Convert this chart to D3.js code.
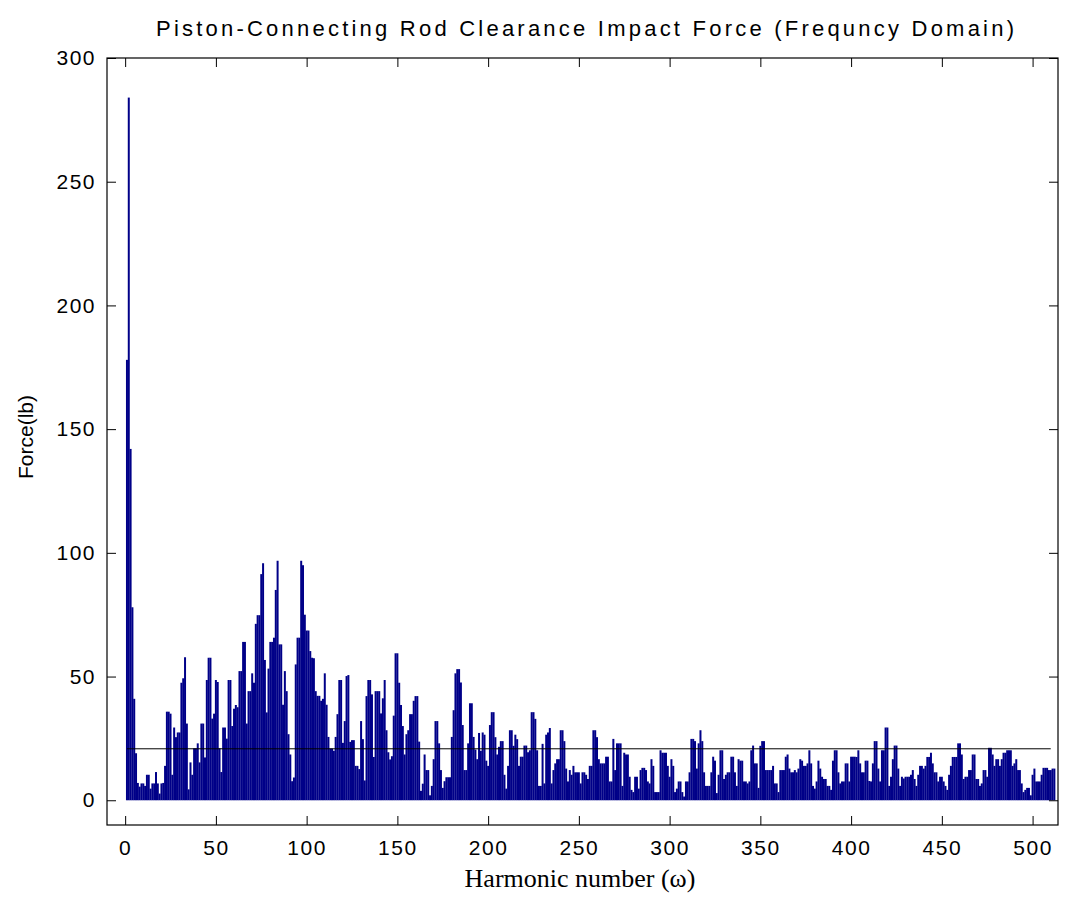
<!DOCTYPE html>
<html>
<head>
<meta charset="utf-8">
<script src="https://cdnjs.cloudflare.com/ajax/libs/d3/7.8.5/d3.min.js"></script>
<style>
  body { margin: 0; background: #fff; }
  svg { display: block; }
  .axis text { font-family: "Liberation Sans", Arial, sans-serif; font-size: 21px; fill: #000; letter-spacing: 1.5px; }
  .axis line { stroke: #000; }
</style>
</head>
<body>
<svg></svg>
<script>
// force amplitude for harmonic number 1..512
const force = [
  178, 284, 142, 78, 41, 19, 7, 5.5, 6.8, 6.8, 5.8, 10.3, 10.3, 4.7, 6.8, 6.8,
  11.4, 6.8, 2.7, 6.8, 7, 13.9, 35.8, 35.8, 35, 10.3, 29.4, 25.5, 27.4, 27.4, 47.5, 49.3,
  57.8, 31, 4.4, 15.3, 10.3, 21, 21, 23, 15.3, 31, 31, 17.3, 48.6, 57.6, 57.6, 33,
  35, 48.6, 47.8, 21, 11.4, 29.4, 29.4, 24.9, 48.6, 48.6, 30, 37, 38.5, 37.6, 52.2, 52.2,
  64, 64, 31, 44.1, 44.1, 51.3, 47.5, 71.3, 74.8, 74.8, 91.4, 95.8, 56.7, 35.5, 53.2, 64,
  64, 65.7, 85, 96.8, 63, 63, 38.6, 52.2, 44.1, 26.7, 18.5, 7.7, 9.2, 54.9, 65.7, 65.7,
  96.8, 95, 75, 68.6, 68.6, 60.3, 57.6, 57.4, 44.1, 42.2, 42.2, 40.2, 41, 51.3, 38.6, 25.6,
  20.9, 20.9, 20, 25.6, 34.8, 48.6, 48.6, 23.2, 32, 50.2, 50.6, 23.6, 24.3, 24.3, 13.9, 13.9,
  12.6, 32, 24.7, 8, 42.1, 48.6, 48.6, 42.8, 17.5, 44.1, 44.1, 44.1, 35.1, 41.2, 48.6, 28.3,
  19.4, 16.5, 17.8, 34.2, 59.4, 59.4, 47.5, 38.5, 30, 18.5, 26.7, 28.3, 34.8, 34.8, 40.2, 42.1,
  42.1, 23.7, 3.8, 6.7, 18.5, 12.2, 12.2, 2, 5.8, 16.6, 32, 32, 23, 12.2, 5, 7.7,
  9.3, 9.3, 9.3, 25.6, 36.4, 51.3, 53, 53, 47.6, 30.4, 12.2, 12.2, 23, 39.2, 39.2, 25.6,
  20.5, 16.6, 27.2, 20, 27.4, 26.5, 16, 13.9, 30.4, 35.6, 35.6, 25.5, 18.5, 21.6, 23.9, 23.9,
  10.3, 4.7, 13.9, 28.3, 28.3, 22, 26.5, 24.7, 13.9, 17.6, 17.6, 22.1, 22.1, 19.4, 20.2, 35.6,
  35.6, 32.9, 20.2, 5.8, 5.8, 22.8, 6.8, 26.5, 27.4, 29.2, 6.8, 12.2, 14.9, 16.6, 16.6, 28.3,
  28.3, 23.9, 12.8, 7.6, 12.2, 10.3, 13.9, 11.3, 11.3, 11.3, 6.8, 11.3, 11.3, 10.3, 8.6, 13.9,
  13.9, 28.3, 28.3, 25.5, 16.6, 14.9, 14.9, 14.9, 17.6, 17.6, 7.6, 7.6, 24.8, 12.2, 23, 23,
  23, 5.8, 19.2, 18.5, 18.5, 9.5, 4.2, 3.3, 9.5, 9.5, 4.7, 12.2, 13.1, 13.1, 12.2, 7.6,
  6.8, 16.6, 13.9, 3.3, 3.3, 3.3, 20.2, 19.2, 19.2, 19.2, 13.9, 9.5, 16.6, 13.9, 3.3, 4.7,
  7.6, 7.6, 3.3, 1.5, 7.6, 7.6, 11.3, 24.8, 24.8, 23.9, 12.8, 23, 28.3, 23.9, 11.3, 5.8,
  5.8, 5.8, 11.3, 17.6, 16, 2.9, 10.3, 20.2, 20.2, 8.6, 10.3, 11.3, 11.3, 17.6, 17.6, 11.3,
  5.8, 16.6, 16, 16, 7.6, 7.6, 6.8, 7.6, 20.2, 22.1, 14.9, 14.9, 5, 22, 23.9, 23.9,
  12.2, 12.2, 12.2, 12.2, 13.9, 6.8, 6.8, 3.3, 12.2, 12.2, 12.2, 17.6, 18.5, 12.8, 11.3, 11.3,
  12.2, 11.3, 12.8, 16.6, 16, 13.9, 13.9, 14.9, 20.2, 14.9, 5.8, 4.7, 7.6, 16, 12.8, 9.5,
  8.6, 8.6, 5.8, 5.8, 4.2, 16, 20.2, 20.2, 11.3, 6.8, 7.6, 7.6, 14.9, 14.9, 7.6, 17.6,
  17.6, 17.6, 17.5, 20.2, 14.9, 11.3, 11.3, 16, 16, 7.8, 7.6, 14.9, 23.9, 23.9, 12.8, 7.6,
  20.2, 20.2, 29.4, 29.4, 5.8, 9.5, 16.6, 22.1, 22.1, 12.8, 5.8, 9.5, 8.8, 9.5, 9.5, 9.5,
  10.3, 12.2, 8.6, 5.8, 10.3, 13.9, 13.9, 12.8, 13.9, 17.5, 17.5, 19.2, 14.9, 11.3, 11.3, 7.6,
  9.5, 9.5, 7.6, 5.8, 4.2, 10.3, 13.9, 17.5, 17.5, 17.5, 23, 23, 18.5, 8.6, 9.5, 9.5,
  12.2, 12.2, 18.5, 18.5, 8.6, 8.6, 5.8, 6.8, 12.2, 12.2, 9.5, 21.2, 21.2, 18.5, 13.9, 16.6,
  16.6, 13.9, 16.6, 19.2, 19.2, 20.2, 20.2, 20.2, 13.9, 14.9, 16.6, 12.2, 12.2, 6.8, 3.3, 4.2,
  5, 5, 2, 10.3, 12.8, 7.6, 7.6, 7.6, 10.3, 13.1, 13.1, 13.1, 12.2, 12.2, 12.8, 12.8
];

// harmonic numbers 1..512
const harmonic = force.map(function (d, i) { return i + 1; });

// horizontal reference level drawn across the spectrum
const refLevel = 20.8;
const refRange = [1, 510];

const xTicks = [0, 50, 100, 150, 200, 250, 300, 350, 400, 450, 500];
const yTicks = [0, 50, 100, 150, 200, 250, 300];

const W = 1067, H = 919;
const margin = { top: 58, right: 9, bottom: 94, left: 107 },
  width = W - margin.left - margin.right,
  height = H - margin.top - margin.bottom;

const root = d3.select("svg").attr("width", W).attr("height", H);

const svg = root
  .append("g")
  .attr("transform", "translate(" + margin.left + "," + margin.top + ")");

const x = d3.scaleLinear().domain([-10, 514]).range([0, width]);
const y = d3.scaleLinear().domain([-10, 300]).range([height, 0]);

// slightly overlapping bars so neighbours merge into a solid mass like the original
const barW = (x(1) - x(0)) * 1.1;

svg
  .selectAll(".bar")
  .data(harmonic)
  .enter()
  .append("rect")
  .attr("class", "bar")
  .attr("x", function (d) { return x(d) - barW / 2; })
  .attr("y", function (d, i) { return y(force[i]); })
  .attr("width", barW)
  .attr("height", function (d, i) { return y(0) - y(force[i]); })
  .attr("fill", "#000088");

svg
  .append("line")
  .attr("x1", x(refRange[0]))
  .attr("x2", x(refRange[1]))
  .attr("y1", y(refLevel))
  .attr("y2", y(refLevel))
  .attr("stroke", "#000")
  .attr("stroke-width", 1);

// axes, ticks pointing inward on all four sides
const tick = 9;

svg.append("g").attr("class", "x axis")
  .attr("transform", "translate(0," + height + ")")
  .call(d3.axisBottom(x).tickValues(xTicks).tickSizeInner(-tick).tickSizeOuter(0).tickPadding(15))
  .call(function (g) { g.select(".domain").remove(); });

svg.append("g").attr("class", "x axis top")
  .call(d3.axisTop(x).tickValues(xTicks).tickSizeInner(-tick).tickSizeOuter(0).tickFormat(""))
  .call(function (g) { g.select(".domain").remove(); });

svg.append("g").attr("class", "y axis")
  .call(d3.axisLeft(y).tickValues(yTicks).tickSizeInner(-tick).tickSizeOuter(0).tickPadding(11))
  .call(function (g) { g.select(".domain").remove(); });

svg.append("g").attr("class", "y axis right")
  .attr("transform", "translate(" + width + ",0)")
  .call(d3.axisRight(y).tickValues(yTicks).tickSizeInner(-tick).tickSizeOuter(0).tickFormat(""))
  .call(function (g) { g.select(".domain").remove(); });

svg.append("rect")
  .attr("x", 0).attr("y", 0)
  .attr("width", width).attr("height", height)
  .attr("fill", "none")
  .attr("stroke", "#000")
  .attr("stroke-width", 1.2);

// titles
root.append("text")
  .attr("x", 585)
  .attr("y", 36)
  .attr("text-anchor", "middle")
  .attr("textLength", 858)
  .attr("lengthAdjust", "spacing")
  .style("font-family", "'Liberation Sans', Arial, sans-serif")
  .style("font-size", "22px")
  .text("Piston-Connecting Rod Clearance Impact Force (Frequncy Domain)");

root.append("text")
  .attr("x", 580)
  .attr("y", 887)
  .attr("text-anchor", "middle")
  .style("font-family", "'Liberation Serif', 'Times New Roman', serif")
  .style("font-size", "26px")
  .text("Harmonic number (ω)");

root.append("text")
  .attr("transform", "translate(33,437) rotate(-90)")
  .attr("text-anchor", "middle")
  .style("font-family", "'Liberation Sans', Arial, sans-serif")
  .style("font-size", "21px")
  .text("Force(lb)");
</script>
</body>
</html>
